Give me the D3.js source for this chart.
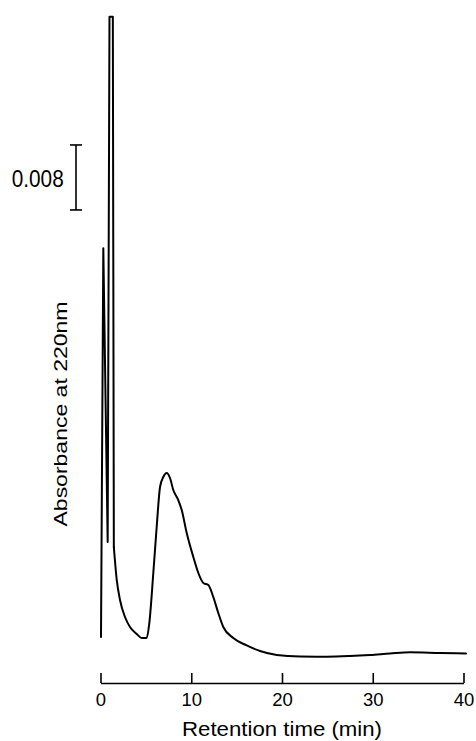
<!DOCTYPE html>
<html>
<head>
<meta charset="utf-8">
<script src="https://cdn.jsdelivr.net/npm/d3@7"></script>
<style>
html,body{margin:0;padding:0;background:#fff;}
svg{display:block;font-family:Arial,"Liberation Sans",Helvetica,sans-serif;}
</style>
</head>
<body>
<svg id="chart" width="476" height="741"></svg>
<script>
// Retention time (min)
const times = [0.055,0.31,0.79,0.99,1.36,1.47,1.79,2.15,2.70,3.25,3.99,4.54,5.09,5.38,5.82,6.19,6.56,6.92,7.29,7.66,8.02,8.57,8.95,9.50,10.23,10.78,11.33,11.88,12.43,12.98,13.53,14.63,16.11,17.58,19.42,21.99,24.93,27.49,29.70,31.90,34.13,37.41,40.28];
// Absorbance at 220 nm (relative to baseline)
const absorbance = [0.00246,0.0503,0.01415,0.0788,0.0788,0.01354,0.00948,0.00702,0.00492,0.00369,0.00283,0.00234,0.00234,0.00418,0.01034,0.0160,0.02092,0.02215,0.02265,0.02203,0.02055,0.01932,0.01809,0.01526,0.01231,0.01034,0.00911,0.00886,0.00738,0.00542,0.00369,0.00234,0.00142,0.00074,0.00025,0.00006,0.00004,0.00012,0.00025,0.00043,0.00058,0.00049,0.00043];
const xTicks = [0,10,20,30,40];
const scaleBarValue = 0.008;
const scaleBarLabel = "0.008";

const svg = d3.select("#chart");
const x = d3.scaleLinear().domain([0,40]).range([100.5,463.5]);
const y = d3.scaleLinear().domain([0,0.08]).range([657,7]);

const data = times.map((t,i)=>({t, a: absorbance[i]}));
const spikeEnd = 5; // sharp injection spikes drawn with straight segments

const lineLinear = d3.line().x(d=>x(d.t)).y(d=>y(d.a)).curve(d3.curveLinear);
const lineSmooth = d3.line().x(d=>x(d.t)).y(d=>y(d.a)).curve(d3.curveMonotoneX);

const g = svg.append("g").attr("fill","none").attr("stroke","#000")
  .attr("stroke-width",2).attr("stroke-linejoin","round").attr("stroke-linecap","round");
g.append("path").datum(data.slice(0, spikeEnd + 1)).attr("d", lineLinear);
g.append("path").datum(data.slice(spikeEnd)).attr("d", lineSmooth);

// x axis
const axisY = 683;
const xAxis = d3.axisBottom(x).tickValues(xTicks).tickFormat(d3.format("d"))
  .tickSizeInner(-10).tickSizeOuter(0).tickPadding(10);
const gx = svg.append("g").attr("transform",`translate(0,${axisY})`).call(xAxis);
gx.select(".domain").attr("stroke","#000").attr("stroke-width",1.6);
gx.selectAll(".tick line").attr("stroke","#000").attr("stroke-width",1.6);
gx.selectAll(".tick text").attr("fill","#000").attr("font-size",18.5)
  .attr("font-family","Arial,'Liberation Sans',sans-serif");

svg.append("text")
  .attr("x",282).attr("y",736)
  .attr("text-anchor","middle")
  .attr("font-size",21)
  .attr("textLength",200).attr("lengthAdjust","spacingAndGlyphs")
  .text("Retention time (min)");

// y label
svg.append("text")
  .attr("transform","translate(66.5,414) rotate(-90)")
  .attr("text-anchor","middle")
  .attr("font-size",18.5)
  .attr("textLength",225).attr("lengthAdjust","spacingAndGlyphs")
  .text("Absorbance at 220nm");

// scale bar
const barBase = 0.05502;
const bx = 76;
const yb0 = y(barBase), yb1 = y(barBase + scaleBarValue);
const sb = svg.append("g").attr("stroke","#000").attr("stroke-width",1.6);
sb.append("line").attr("x1",bx).attr("x2",bx).attr("y1",yb0).attr("y2",yb1);
sb.append("line").attr("x1",bx-6).attr("x2",bx+6).attr("y1",yb0).attr("y2",yb0);
sb.append("line").attr("x1",bx-6).attr("x2",bx+6).attr("y1",yb1).attr("y2",yb1);
svg.append("text")
  .attr("x",11.7).attr("y",186.5)
  .attr("font-size",23)
  .attr("textLength",52).attr("lengthAdjust","spacingAndGlyphs")
  .text(scaleBarLabel);
</script>
</body>
</html>
